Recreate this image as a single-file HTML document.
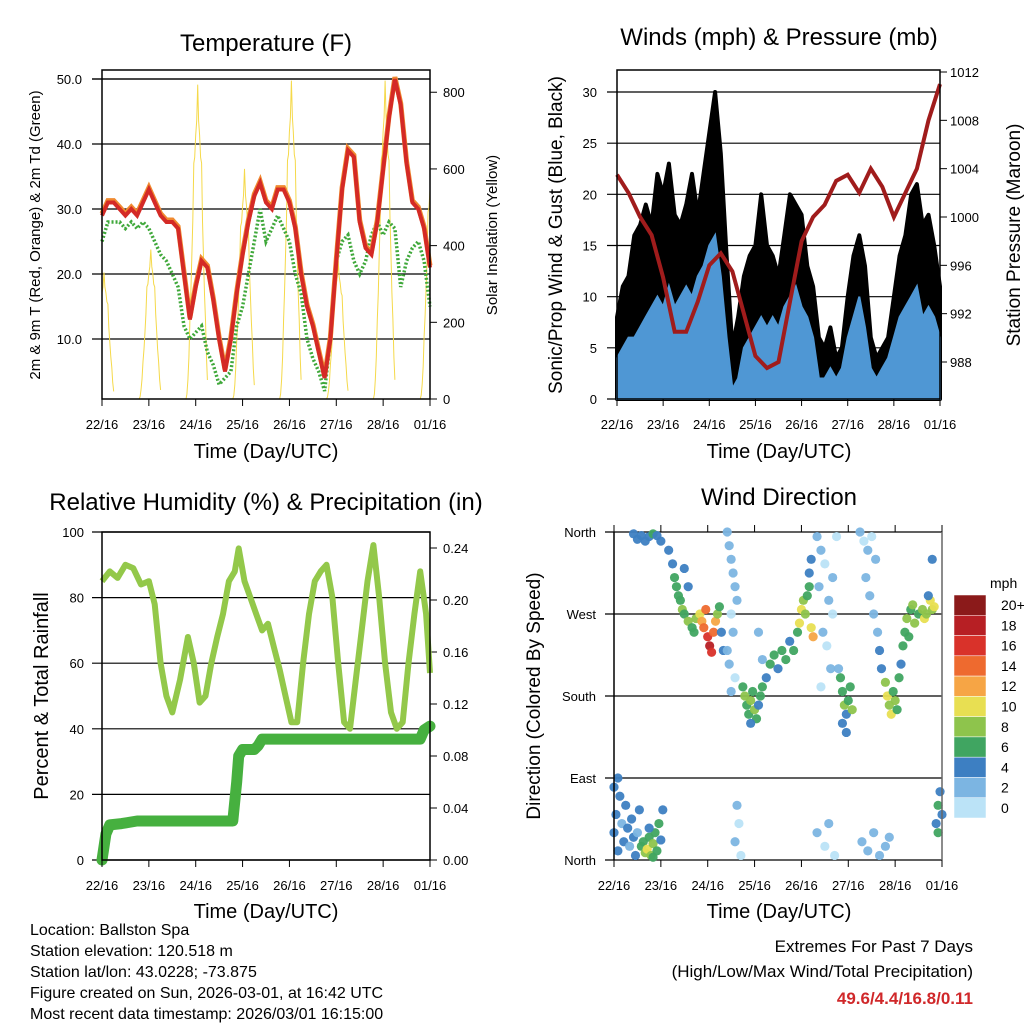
<!DOCTYPE html>
<html><head><meta charset="utf-8"><style>
body{margin:0;background:#fff;}
svg{display:block;font-family:"Liberation Sans",sans-serif;}
</style></head><body>
<svg id="c" width="1024" height="1024" viewBox="0 0 1024 1024" xmlns="http://www.w3.org/2000/svg">
<g id="g"></g>
<g font-size="16" fill="#000">
<text x="30" y="935">Location: Ballston Spa</text>
<text x="30" y="956">Station elevation: 120.518 m</text>
<text x="30" y="977">Station lat/lon: 43.0228; -73.875</text>
<text x="30" y="998">Figure created on Sun, 2026-03-01, at 16:42 UTC</text>
<text x="30" y="1019">Most recent data timestamp: 2026/03/01 16:15:00</text>
</g>
<g font-size="17" text-anchor="end">
<text x="973" y="952">Extremes For Past 7 Days</text>
<text x="973" y="977">(High/Low/Max Wind/Total Precipitation)</text>
<text x="973" y="1004" fill="#d0282a" font-weight="bold">49.6/4.4/16.8/0.11</text>
</g>
</svg>
<script>
const dayLabels=["22/16","23/16","24/16","25/16","26/16","27/16","28/16","01/16"];
// Temperature panel (every 3h from 22/16)
const tempHours=[0,3,6,9,12,15,18,21,24,27,30,33,36,39,42,45,48,51,54,57,60,63,66,69,72,75,78,81,84,87,90,93,96,99,102,105,108,111,114,117,120,123,126,129,132,135,138,141,144,147,150,153,156,159,162,165,168];
const tempVals=[29,31,31,30,29,30,29,31,33,31,29,28,28,27,20,13,18,22,21,16,10,5,10,17,23,28,32,34,31,30,33,33,31,27,20,15,12,8,4,10,22,33,39,38,28,24,23,28,36,44,50,46,37,31,30,27,21];
const dewVals=[25,28,28,28,27,28,27,28,27,25,23,22,20,18,12,10,11,12,8,6,3,4,5,12,15,20,25,30,25,27,29,27,25,20,17,10,7,5,2,10,22,25,26,22,20,22,26,28,26,28,27,18,22,24,25,22,15];
const insolHours=[1,25,49,73,97,121,145,169];
const insolPeaks=[330,390,820,600,830,360,830,650];
const tempTicks=[10,20,30,40,50];
const insolTicks=[0,200,400,600,800];
// Winds panel
const windVals=[4,5,6,6,7,8,9,10,9,11,9,10,11,10,12,13,15,16,12,6,1,2,5,6,7,8,7,8,7,9,10,11,9,8,6,2,2,3,2,3,6,8,10,7,3,2,3,4,6,8,9,10,11,8,9,8,6];
const gustVals=[8,11,12,16,17,19,17,22,20,23,18,17,19,22,18,22,26,30,24,14,5,8,12,14,15,20,15,14,12,16,20,19,18,13,11,6,5,7,4,5,10,14,16,13,6,4,5,6,10,14,16,20,21,17,18,15,11];
const presHours=[0,6,12,18,24,30,36,42,48,54,60,66,72,78,84,90,96,102,108,114,120,126,132,138,144,150,156,162,168];
const presVals=[1003.5,1002,1000,998.5,995,990.5,990.5,993,996,997,995.5,992,988.5,987.5,988,993,998,1000,1001,1003,1003.5,1002,1004,1002.5,1000,1002,1004,1008,1011];
const windTicks=[0,5,10,15,20,25,30];
const presTicks=[988,992,996,1000,1004,1008,1012];
// RH panel
const rhHours=[0,4,8,12,16,20,24,27,30,33,36,40,44,47,50,53,56,59,62,65,68,70,73,76,79,82,85,88,91,94,97,100,103,106,109,112,115,118,121,124,127,130,133,136,139,142,145,148,151,154,157,160,163,166,168];
const rhVals=[85,88,86,90,89,84,85,78,60,50,45,55,68,60,48,50,60,68,75,85,88,95,85,80,75,70,72,65,58,50,42,42,60,75,85,88,90,80,60,42,40,55,70,85,96,80,60,45,40,42,60,75,88,75,57];
const precHours=[0,2,4,10,18,67,69,70,72,78,80,82,163,165,168];
const precVals=[0,0.02,0.027,0.028,0.03,0.03,0.06,0.08,0.085,0.085,0.088,0.093,0.093,0.1,0.103];
const rhTicks=[0,20,40,60,80,100];
const precTicks=[0,0.04,0.08,0.12,0.16,0.20,0.24];
// Wind direction panel
const dirHours=[0,1,2,3,4,5,6,7,8,9,10,11,12,13,14,15,16,17,18,19,20,21,22,23,24,25,0,2,20,18,
10,12,14,16,18,20,22,24,28,30,31,32,33,34,35,36,38,40,41,42,44,45,46,47,48,49,50,51,52,53,54,38,36,55,56,
58,59,60,61,62,63,60,61,58,59,62,60,63,64,62,65,
66,67,68,69,70,71,72,73,74,75,76,70,
78,80,82,84,86,88,90,92,94,76,74,
95,96,97,98,99,100,101,102,100,101,
104,106,108,105,110,112,107,109,111,106,104,108,110,113,112,114,
116,117,118,119,120,121,122,117,119,115,
126,128,130,132,134,129,131,133,135,136,137,127,130,133,136,139,141,
139,140,141,142,143,144,145,146,147,148,149,150,151,152,153,154,156,158,159,160,162,163,164,161,165,166,167,166,168,163];
const dirVals=[30,50,10,70,40,20,60,35,15,45,25,5,30,55,15,20,8,12,25,5,18,30,10,40,22,55,80,90,3,35,
358,352,356,350,355,358,356,350,340,325,310,300,290,285,275,270,262,255,250,265,270,262,255,275,245,235,228,250,262,270,278,300,320,250,230,
360,345,330,315,300,285,270,250,230,215,200,185,60,40,20,5,
190,180,170,160,175,185,165,155,170,180,190,150,
200,215,225,210,230,220,240,230,250,220,250,
260,275,285,270,290,300,255,245,315,330,
355,340,325,300,285,270,250,235,210,190,30,15,40,5,310,355,
200,185,170,160,175,190,165,150,140,210,
360,350,340,355,330,310,290,270,250,230,210,20,10,30,5,15,25,
195,180,170,160,185,175,165,200,215,235,250,265,245,275,280,260,270,275,265,270,285,275,278,290,40,60,75,30,50,330];
const dirSpeeds=[3,4,3,4,2,3,3,4,2,3,4,3,2,4,5,6,7,9,6,7,8,5,6,5,4,3,3,4,6,4,
4,3,4,3,4,6,4,4,4,4,5,6,5,6,7,6,7,6,5,8,10,12,14,13,16,18,16,14,11,8,6,4,4,3,3,
1,2,1,2,1,2,0,1,1,1,0,1,1,0,1,0,
6,7,6,5,8,6,7,5,4,6,5,4,
4,5,6,4,5,6,4,6,5,2,1,
9,10,8,7,6,5,10,12,4,3,
1,1,0,1,1,0,1,0,1,0,1,0,1,0,1,0,
6,5,7,4,6,5,8,4,3,2,
1,0,1,0,1,1,2,2,2,3,3,2,1,2,1,2,1,
7,9,8,10,6,7,5,6,4,5,6,7,6,5,8,7,6,8,9,7,10,8,9,4,4,5,4,6,3,3];
const cbLabels=["20+","18","16","14","12","10","8","6","4","2","0"];
const cbColors=["#8b1a1a","#b71f24","#d9322a","#ee6a2f","#f6a545","#e8df52","#8ec44c","#40a561","#3d7fc2","#7cb5e2","#bbe3f7"];

const NS="http://www.w3.org/2000/svg";
const G=document.getElementById('g');
function mk(tag,attrs,parent){const e=document.createElementNS(NS,tag);for(const k in attrs)e.setAttribute(k,attrs[k]);(parent||G).appendChild(e);return e;}
function txt(s,attrs,parent){const e=mk('text',attrs,parent);e.textContent=s;return e;}
function pathOf(xs,ys){return xs.map((x,i)=>(i?'L':'M')+x.toFixed(1)+' '+ys[i].toFixed(1)).join(' ');}

// ---------- Panel 1 Temperature ----------
(function(){
const L=102,R=430,T=70,B=399;
const x=h=>L+h*(R-L)/168, y=v=>79+(50-v)*6.5, yi=v=>B-v*(B-T)/858;
const g=mk('g',{});


txt("Temperature (F)",{x:266,y:51,'font-size':24,'text-anchor':'middle'},g);
tempTicks.concat([50]).forEach(v=>{mk('line',{x1:92,x2:R,y1:y(v),y2:y(v),stroke:'#000','stroke-width':1.2},g);});
tempTicks.forEach(v=>{const t=txt(v.toFixed(1),{x:82,y:y(v)+5,'font-size':13,'text-anchor':'end'},g);
});
insolTicks.forEach(v=>{mk('line',{x1:R,x2:R+7,y1:yi(v),y2:yi(v),stroke:'#000'},g);
const t=txt(String(v),{x:R+13,y:yi(v)+5,'font-size':13},g);});
insolHours.forEach((hc,i)=>{const xs=[],ys=[];for(let k=-6;k<=5;k+=0.5){const f=Math.max(0,Math.cos((k)/6*Math.PI/2));xs.push(x(hc+k));ys.push(yi(insolPeaks[i]*f*f*(k%2?0.9:1)));}
const cxs=[],cys=[];xs.forEach((v,j)=>{if(v>=L&&v<=R){cxs.push(v);cys.push(ys[j]);}});
if(cxs.length>1){const p=mk('path',{d:pathOf(cxs,cys),fill:'none',stroke:'#f5d94a','stroke-width':1},g);
}});
const pd=mk('path',{d:pathOf(tempHours.map(x),dewVals.map(y)),fill:'none',stroke:'#3fa83a','stroke-width':3.5,'stroke-dasharray':'2 2'},g);

const po=mk('path',{d:pathOf(tempHours.map(x),tempVals.map(v=>y(v+0.3))),fill:'none',stroke:'#f08a30','stroke-width':5},g);

const pr=mk('path',{d:pathOf(tempHours.map(x),tempVals.map(y)),fill:'none',stroke:'#d42a26','stroke-width':4},g);

mk('rect',{x:L,y:T,width:R-L,height:B-T,fill:'none',stroke:'#000','stroke-width':1.5},g);
dayLabels.forEach((d,i)=>{const xx=L+i*(R-L)/7;mk('line',{x1:xx,x2:xx,y1:B,y2:B+7,stroke:'#000'},g);
const t=txt(d,{x:xx,y:B+30,'font-size':13,'text-anchor':'middle'},g);});
txt("Time (Day/UTC)",{x:266,y:458,'font-size':20,'text-anchor':'middle'},g);
txt("2m & 9m T (Red, Orange) & 2m Td (Green)",{x:0,y:0,'font-size':15,'text-anchor':'middle',transform:'translate(40,235) rotate(-90)'},g);
txt("Solar Insolation (Yellow)",{x:0,y:0,'font-size':15,'text-anchor':'middle',transform:'translate(497,235) rotate(-90)'},g);
})();

// ---------- Panel 2 Winds ----------
(function(){
const L=617,R=940,T=70,B=399;
const x=h=>L+h*(R-L)/168, y=v=>B-v*(B-92)/30, yp=p=>72+(1012-p)*(362-72)/24;
const g=mk('g',{});


txt("Winds (mph) & Pressure (mb)",{x:779,y:45,'font-size':24,'text-anchor':'middle'},g);
windTicks.forEach(v=>{mk('line',{x1:607,x2:R,y1:y(v),y2:y(v),stroke:'#000','stroke-width':1.2},g);
const t=txt(String(v),{x:597,y:y(v)+5,'font-size':13,'text-anchor':'end'},g);});
presTicks.forEach(v=>{mk('line',{x1:R,x2:R+7,y1:yp(v),y2:yp(v),stroke:'#000'},g);
const t=txt(String(v),{x:R+10,y:yp(v)+5,'font-size':13},g);});
const xs=tempHours.map(x);
const ga=mk('path',{d:pathOf(xs,gustVals.map(y))+' L'+x(168)+' '+B+' L'+x(0)+' '+B+' Z',fill:'#000',stroke:'#000','stroke-width':4,'stroke-linejoin':'round'},g);

const wa=mk('path',{d:pathOf(xs,windVals.map(y))+' L'+x(168)+' '+B+' L'+x(0)+' '+B+' Z',fill:'#4f97d4',stroke:'#4f97d4','stroke-width':2},g);

const pp=mk('path',{d:pathOf(presHours.map(x),presVals.map(yp)),fill:'none',stroke:'#a01c1c','stroke-width':4},g);

mk('rect',{x:L,y:T,width:R-L,height:B-T,fill:'none',stroke:'#000','stroke-width':1.5},g);
dayLabels.forEach((d,i)=>{const xx=L+i*(R-L)/7;mk('line',{x1:xx,x2:xx,y1:B,y2:B+7,stroke:'#000'},g);
const t=txt(d,{x:xx,y:B+30,'font-size':13,'text-anchor':'middle'},g);});
txt("Time (Day/UTC)",{x:779,y:458,'font-size':20,'text-anchor':'middle'},g);
txt("Sonic/Prop Wind & Gust (Blue, Black)",{x:0,y:0,'font-size':19,'text-anchor':'middle',transform:'translate(562,235) rotate(-90)'},g);
txt("Station Pressure (Maroon)",{x:0,y:0,'font-size':19,'text-anchor':'middle',transform:'translate(1020,235) rotate(-90)'},g);
})();

// ---------- Panel 3 RH ----------
(function(){
const L=102,R=430,T=532,B=860;
const x=h=>L+h*(R-L)/168, y=v=>B-v*(B-T)/100, yr=p=>B-p*(B-548)/0.24;
const g=mk('g',{});


txt("Relative Humidity (%) & Precipitation (in)",{x:266,y:510,'font-size':24,'text-anchor':'middle'},g);
rhTicks.forEach(v=>{mk('line',{x1:92,x2:R,y1:y(v),y2:y(v),stroke:'#000','stroke-width':1.2},g);
const t=txt(String(v),{x:84,y:y(v)+5,'font-size':13,'text-anchor':'end'},g);});
precTicks.forEach(v=>{mk('line',{x1:R,x2:R+7,y1:yr(v),y2:yr(v),stroke:'#000'},g);
const t=txt(v.toFixed(2),{x:R+13,y:yr(v)+5,'font-size':13},g);});
const rp=mk('path',{d:pathOf(rhHours.map(x),rhVals.map(y)),fill:'none',stroke:'#93c84a','stroke-width':6,'stroke-linejoin':'round'},g);

const pc=mk('path',{d:pathOf(precHours.map(x),precVals.map(yr)),fill:'none',stroke:'#46b03f','stroke-width':11,'stroke-linecap':'round','stroke-linejoin':'round'},g);

mk('rect',{x:L,y:T,width:R-L,height:B-T,fill:'none',stroke:'#000','stroke-width':1.5},g);
dayLabels.forEach((d,i)=>{const xx=L+i*(R-L)/7;mk('line',{x1:xx,x2:xx,y1:B,y2:B+7,stroke:'#000'},g);
const t=txt(d,{x:xx,y:B+30,'font-size':13,'text-anchor':'middle'},g);});
txt("Time (Day/UTC)",{x:266,y:918,'font-size':20,'text-anchor':'middle'},g);
txt("Percent & Total Rainfall",{x:0,y:0,'font-size':20,'text-anchor':'middle',transform:'translate(48,696) rotate(-90)'},g);
})();

// ---------- Panel 4 Wind direction ----------
(function(){
const L=614,R=942,T=532,B=860;
const x=h=>L+h*(R-L)/168, y=d=>B-d*(B-T)/360;
const g=mk('g',{});


txt("Wind Direction",{x:779,y:505,'font-size':24,'text-anchor':'middle'},g);
const dl=["North","East","South","West","North"];
dl.forEach((s,i)=>{const yy=y(i*90);mk('line',{x1:605,x2:R,y1:yy,y2:yy,stroke:'#000','stroke-width':1.2},g);
const t=txt(s,{x:596,y:yy+5,'font-size':13,'text-anchor':'end'},g);});
const col=s=>cbColors[10-Math.min(10,Math.round(s/2))];
dirHours.forEach((h,i)=>{const c=mk('circle',{cx:x(h),cy:y(dirVals[i]),r:4.6,fill:col(dirSpeeds[i]),'fill-opacity':0.95},g);
});
mk('line',{x1:L,x2:L,y1:T,y2:B,stroke:'#000','stroke-width':1.5},g);
mk('line',{x1:R,x2:R,y1:T,y2:B,stroke:'#666','stroke-width':1.5},g);
dayLabels.forEach((d,i)=>{const xx=L+i*(R-L)/7;mk('line',{x1:xx,x2:xx,y1:B,y2:B+7,stroke:'#000'},g);mk('line',{x1:xx,x2:xx,y1:T,y2:T-7,stroke:'#000'},g);
const t=txt(d,{x:xx,y:B+30,'font-size':13,'text-anchor':'middle'},g);});
txt("Time (Day/UTC)",{x:779,y:918,'font-size':20,'text-anchor':'middle'},g);
txt("Direction (Colored By Speed)",{x:0,y:0,'font-size':19,'text-anchor':'middle',transform:'translate(540,696) rotate(-90)'},g);
const cb=mk('g',{},g);


txt("mph",{x:990,y:588,'font-size':14},cb);
const h=(818-595)/11;
cbLabels.forEach((s,i)=>{const r=mk('rect',{x:954,y:595+i*h,width:32,height:h,fill:cbColors[i],stroke:'#fff','stroke-width':0.5},cb);

const t=txt(s,{x:1001,y:595+i*h+h/2+5,'font-size':14},cb);});
})();
</script>
</body></html>
